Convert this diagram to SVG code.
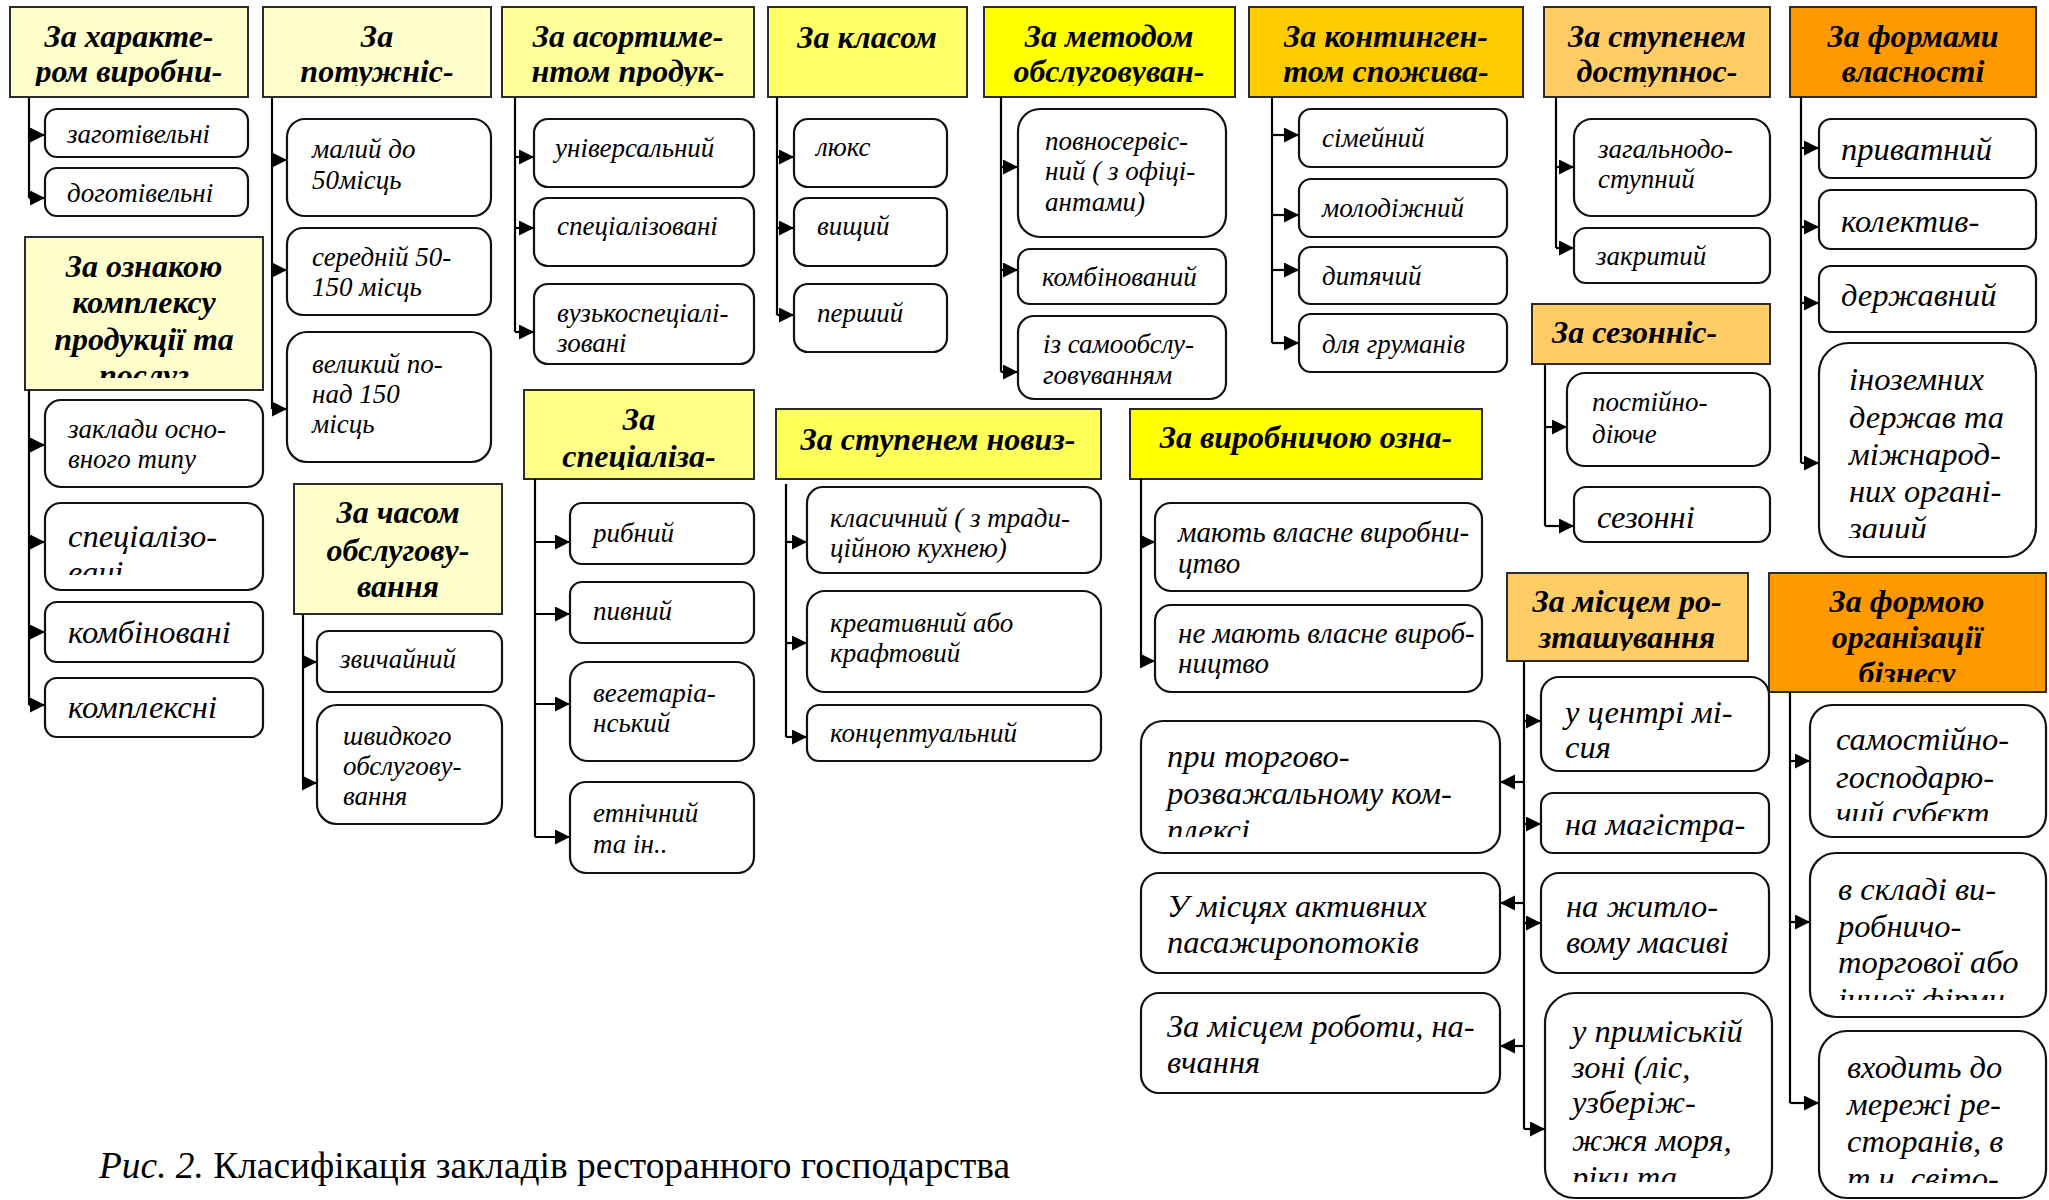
<svg xmlns="http://www.w3.org/2000/svg" width="2049" height="1200" viewBox="0 0 2049 1200">
<style>
.hd rect{stroke:#2b2b2b;stroke-width:2}
.hd text{font-family:"Liberation Serif","Times New Roman",serif;font-weight:bold;font-style:italic;font-size:32px;text-anchor:middle;fill:#000}
.bx rect{fill:#fff;stroke:#111;stroke-width:2.2}
.bx text{font-family:"Liberation Serif","Times New Roman",serif;font-style:italic;font-size:27px;fill:#000}
.bx.md text{font-size:29px}
.bx.lg text{font-size:32.5px}
.cn path{fill:none;stroke:#000;stroke-width:2.2}
.cn path.a{marker-end:url(#ar)}
.cap{font-family:"Liberation Serif","Times New Roman",serif;font-size:37.4px;fill:#000}
</style>
<defs>
<marker id="ar" markerUnits="userSpaceOnUse" markerWidth="16" markerHeight="16" refX="15" refY="7.5" orient="auto"><path d="M0,0 L15,7.5 L0,15 z" fill="#000"/></marker>
<clipPath id="k1"><rect x="10" y="7" width="238" height="79"/></clipPath>
<clipPath id="k2"><rect x="263" y="7" width="228" height="79"/></clipPath>
<clipPath id="k3"><rect x="502" y="7" width="252" height="79"/></clipPath>
<clipPath id="k4"><rect x="984" y="7" width="251" height="79"/></clipPath>
<clipPath id="k5"><rect x="1544" y="7" width="226" height="80"/></clipPath>
<clipPath id="k6"><rect x="25" y="237" width="238" height="141"/></clipPath>
<clipPath id="k7"><rect x="524" y="390" width="230" height="80"/></clipPath>
<clipPath id="k8"><rect x="1507" y="573" width="241" height="78"/></clipPath>
<clipPath id="k9"><rect x="1769" y="573" width="277" height="109"/></clipPath>
<clipPath id="k10"><rect x="534" y="284" width="220" height="68"/></clipPath>
<clipPath id="k11"><rect x="45" y="503" width="218" height="72"/></clipPath>
<clipPath id="k12"><rect x="1141" y="721" width="359" height="116"/></clipPath>
<clipPath id="k13"><rect x="1819" y="343" width="217" height="195"/></clipPath>
<clipPath id="k14"><rect x="1810" y="705" width="236" height="116"/></clipPath>
<clipPath id="k15"><rect x="1810" y="853" width="236" height="147"/></clipPath>
<clipPath id="k16"><rect x="1545" y="993" width="227" height="189"/></clipPath>
<clipPath id="k17"><rect x="1819" y="1031" width="227" height="152"/></clipPath>
<clipPath id="k18"><rect x="1018" y="316" width="208" height="69"/></clipPath>
</defs>
<rect width="2049" height="1200" fill="#fff"/>

<!-- headers -->
<g id="h-harakter" class="hd"><rect x="10" y="7" width="238" height="90" fill="#FFFFCC"/><text clip-path="url(#k1)"><tspan x="129" y="47">За характе-</tspan><tspan x="129" y="82">ром виробни-</tspan></text></g>
<g id="h-potuzhn" class="hd"><rect x="263" y="7" width="228" height="90" fill="#FFFFCC"/><text clip-path="url(#k2)"><tspan x="377" y="47">За</tspan><tspan x="377" y="82">потужніс-</tspan></text></g>
<g id="h-asort" class="hd"><rect x="502" y="7" width="252" height="90" fill="#FFFF99"/><text clip-path="url(#k3)"><tspan x="628" y="47">За асортиме-</tspan><tspan x="628" y="82">нтом продук-</tspan></text></g>
<g id="h-klas" class="hd"><rect x="768" y="7" width="199" height="90" fill="#FFFF66"/><text x="867" y="48">За класом</text></g>
<g id="h-metod" class="hd"><rect x="984" y="7" width="251" height="90" fill="#FFFF00"/><text clip-path="url(#k4)"><tspan x="1109" y="47">За методом</tspan><tspan x="1109" y="82">обслуговуван-</tspan></text></g>
<g id="h-kontyng" class="hd"><rect x="1249" y="7" width="274" height="90" fill="#FFCC00"/><text><tspan x="1386" y="47">За континген-</tspan><tspan x="1386" y="82">том спожива-</tspan></text></g>
<g id="h-dostup" class="hd"><rect x="1544" y="7" width="226" height="90" fill="#FFCC66"/><text clip-path="url(#k5)"><tspan x="1657" y="47">За ступенем</tspan><tspan x="1657" y="82">доступнос-</tspan></text></g>
<g id="h-vlasn" class="hd"><rect x="1790" y="7" width="246" height="90" fill="#FF9900"/><text><tspan x="1913" y="47">За формами</tspan><tspan x="1913" y="82">власності</tspan></text></g>
<g id="h-oznaka" class="hd"><rect x="25" y="237" width="238" height="153" fill="#FFFFCC"/><text clip-path="url(#k6)"><tspan x="144" y="277">За ознакою</tspan><tspan x="144" y="313">комплексу</tspan><tspan x="144" y="350">продукції та</tspan><tspan x="144" y="386">послуг</tspan></text></g>
<g id="h-chas" class="hd"><rect x="294" y="484" width="208" height="130" fill="#FFFFCC"/><text><tspan x="398" y="523">За часом</tspan><tspan x="398" y="561">обслугову-</tspan><tspan x="398" y="597">вання</tspan></text></g>
<g id="h-spec" class="hd"><rect x="524" y="390" width="230" height="89" fill="#FFFF88"/><text clip-path="url(#k7)"><tspan x="639" y="430">За</tspan><tspan x="639" y="467">спеціаліза-</tspan></text></g>
<g id="h-noviz" class="hd"><rect x="776" y="409" width="325" height="70" fill="#FFFF5A"/><text x="938" y="450">За ступенем новиз-</text></g>
<g id="h-vyrob" class="hd"><rect x="1130" y="409" width="352" height="70" fill="#FFFF00"/><text x="1306" y="448">За виробничою озна-</text></g>
<g id="h-sezon" class="hd"><rect x="1532" y="304" width="238" height="60" fill="#FFCC66"/><text x="1552" y="343" style="text-anchor:start">За сезонніс-</text></g>
<g id="h-misce" class="hd"><rect x="1507" y="573" width="241" height="88" fill="#FFCC66"/><text clip-path="url(#k8)"><tspan x="1627" y="612">За місцем ро-</tspan><tspan x="1627" y="648">зташування</tspan></text></g>
<g id="h-forma" class="hd"><rect x="1769" y="573" width="277" height="119" fill="#FF9900"/><text clip-path="url(#k9)"><tspan x="1907" y="612">За формою</tspan><tspan x="1907" y="648">організації</tspan><tspan x="1907" y="684">бізнесу</tspan></text></g>

<!-- boxes -->
<g id="b-zagot" class="bx"><rect x="45" y="109" width="203" height="48" rx="12"/><text x="67" y="143">заготівельні</text></g>
<g id="b-dogot" class="bx"><rect x="45" y="168" width="203" height="48" rx="12"/><text x="67" y="202">доготівельні</text></g>

<g id="b-maly" class="bx"><rect x="287" y="119" width="204" height="97" rx="18"/><text><tspan x="312" y="158">малий до</tspan><tspan x="312" y="189">50місць</tspan></text></g>
<g id="b-seredn" class="bx"><rect x="287" y="228" width="204" height="87" rx="16"/><text><tspan x="312" y="266">середній 50-</tspan><tspan x="312" y="296">150 місць</tspan></text></g>
<g id="b-velyk" class="bx"><rect x="287" y="332" width="204" height="130" rx="20"/><text><tspan x="312" y="373">великий по-</tspan><tspan x="312" y="403">над 150</tspan><tspan x="312" y="433">місць</tspan></text></g>

<g id="b-univ" class="bx"><rect x="534" y="119" width="220" height="68" rx="14"/><text x="555" y="157">універсальний</text></g>
<g id="b-specz" class="bx"><rect x="534" y="198" width="220" height="68" rx="14"/><text x="557" y="235">спеціалізовані</text></g>
<g id="b-vuzko" class="bx"><rect x="534" y="284" width="220" height="80" rx="14"/><text clip-path="url(#k10)"><tspan x="557" y="322">вузькоспеціалі-</tspan><tspan x="557" y="352">зовані</tspan></text></g>

<g id="b-luks" class="bx"><rect x="794" y="119" width="153" height="68" rx="14"/><text x="816" y="156">люкс</text></g>
<g id="b-vyshch" class="bx"><rect x="794" y="198" width="153" height="68" rx="14"/><text x="817" y="235">вищий</text></g>
<g id="b-persh" class="bx"><rect x="794" y="284" width="153" height="68" rx="14"/><text x="817" y="322">перший</text></g>

<g id="b-povno" class="bx"><rect x="1018" y="109" width="208" height="128" rx="22"/><text><tspan x="1045" y="150">повносервіс-</tspan><tspan x="1045" y="180">ний ( з офіці-</tspan><tspan x="1045" y="211">антами)</tspan></text></g>
<g id="b-kombin" class="bx"><rect x="1018" y="249" width="208" height="55" rx="12"/><text x="1042" y="286">комбінований</text></g>
<g id="b-samoob" class="bx"><rect x="1018" y="316" width="208" height="83" rx="16"/><text clip-path="url(#k18)"><tspan x="1043" y="353">із самообслу-</tspan><tspan x="1043" y="384">говуванням</tspan></text></g>

<g id="b-simei" class="bx"><rect x="1299" y="109" width="208" height="58" rx="12"/><text x="1322" y="147">сімейний</text></g>
<g id="b-molod" class="bx"><rect x="1299" y="179" width="208" height="58" rx="12"/><text x="1322" y="217">молодіжний</text></g>
<g id="b-dyt" class="bx"><rect x="1299" y="247" width="208" height="57" rx="12"/><text x="1322" y="285">дитячий</text></g>
<g id="b-grum" class="bx"><rect x="1299" y="314" width="208" height="58" rx="12"/><text x="1322" y="353">для груманів</text></g>

<g id="b-zagaln" class="bx"><rect x="1574" y="119" width="196" height="97" rx="18"/><text><tspan x="1598" y="158">загальнодо-</tspan><tspan x="1598" y="188">ступний</tspan></text></g>
<g id="b-zakr" class="bx"><rect x="1574" y="228" width="196" height="55" rx="12"/><text x="1596" y="265">закритий</text></g>

<g id="b-pryv" class="bx lg"><rect x="1819" y="119" width="217" height="59" rx="12"/><text x="1841" y="160">приватний</text></g>
<g id="b-kolekt" class="bx lg"><rect x="1819" y="190" width="217" height="59" rx="12"/><text x="1841" y="232">колектив-</text></g>
<g id="b-derzh" class="bx lg"><rect x="1819" y="266" width="217" height="66" rx="12"/><text x="1841" y="306">державний</text></g>
<g id="b-inozem" class="bx lg"><rect x="1819" y="343" width="217" height="214" rx="30"/><text clip-path="url(#k13)"><tspan x="1849" y="390">іноземних</tspan><tspan x="1849" y="428">держав та</tspan><tspan x="1849" y="465">міжнарод-</tspan><tspan x="1849" y="502">них органі-</tspan><tspan x="1849" y="539">заций</tspan></text></g>

<g id="b-zakl" class="bx"><rect x="45" y="400" width="218" height="87" rx="16"/><text><tspan x="68" y="438">заклади осно-</tspan><tspan x="68" y="468">вного типу</tspan></text></g>
<g id="b-specvani" class="bx lg"><rect x="45" y="503" width="218" height="87" rx="16"/><text clip-path="url(#k11)"><tspan x="68" y="547">спеціалізо-</tspan><tspan x="68" y="583">вані</tspan></text></g>
<g id="b-kombvani" class="bx lg"><rect x="45" y="602" width="218" height="60" rx="12"/><text x="68" y="643">комбіновані</text></g>
<g id="b-kompl" class="bx lg"><rect x="45" y="678" width="218" height="59" rx="12"/><text x="68" y="718">комплексні</text></g>

<g id="b-zvych" class="bx"><rect x="317" y="631" width="185" height="61" rx="12"/><text x="340" y="668">звичайний</text></g>
<g id="b-shvyd" class="bx"><rect x="317" y="705" width="185" height="119" rx="20"/><text><tspan x="343" y="745">швидкого</tspan><tspan x="343" y="775">обслугову-</tspan><tspan x="343" y="805">вання</tspan></text></g>

<g id="b-ryb" class="bx"><rect x="570" y="503" width="184" height="61" rx="12"/><text x="593" y="542">рибний</text></g>
<g id="b-pyv" class="bx"><rect x="570" y="582" width="184" height="61" rx="12"/><text x="593" y="620">пивний</text></g>
<g id="b-veget" class="bx"><rect x="570" y="662" width="184" height="99" rx="18"/><text><tspan x="593" y="702">вегетаріа-</tspan><tspan x="593" y="732">нський</tspan></text></g>
<g id="b-etn" class="bx"><rect x="570" y="782" width="184" height="91" rx="16"/><text><tspan x="593" y="822">етнічний</tspan><tspan x="593" y="853">та ін..</tspan></text></g>

<g id="b-klasych" class="bx"><rect x="807" y="487" width="294" height="86" rx="16"/><text><tspan x="830" y="527">класичний ( з тради-</tspan><tspan x="830" y="557">ційною кухнею)</tspan></text></g>
<g id="b-kreat" class="bx"><rect x="807" y="591" width="294" height="101" rx="18"/><text><tspan x="830" y="632">креативний або</tspan><tspan x="830" y="662">крафтовий</tspan></text></g>
<g id="b-koncept" class="bx"><rect x="807" y="705" width="294" height="56" rx="12"/><text x="830" y="742">концептуальний</text></g>

<g id="b-mayut" class="bx md"><rect x="1155" y="503" width="327" height="88" rx="16"/><text><tspan x="1178" y="542">мають власне виробни-</tspan><tspan x="1178" y="573">цтво</tspan></text></g>
<g id="b-nemayut" class="bx md"><rect x="1155" y="605" width="327" height="87" rx="16"/><text><tspan x="1178" y="643">не мають власне вироб-</tspan><tspan x="1178" y="673">ництво</tspan></text></g>

<g id="b-postiyno" class="bx"><rect x="1567" y="373" width="203" height="93" rx="18"/><text><tspan x="1592" y="411">постійно-</tspan><tspan x="1592" y="443">діюче</tspan></text></g>
<g id="b-sezonni" class="bx lg"><rect x="1574" y="487" width="196" height="55" rx="12"/><text x="1597" y="528">сезонні</text></g>

<g id="b-centr" class="bx lg"><rect x="1541" y="677" width="228" height="94" rx="18"/><text><tspan x="1565" y="723">у центрі мі-</tspan><tspan x="1565" y="758">сия</tspan></text></g>
<g id="b-magistr" class="bx lg"><rect x="1541" y="793" width="228" height="60" rx="12"/><text x="1565" y="835">на магістра-</text></g>
<g id="b-zhytlo" class="bx lg"><rect x="1541" y="873" width="228" height="100" rx="18"/><text><tspan x="1566" y="917">на житло-</tspan><tspan x="1566" y="953">вому масиві</tspan></text></g>
<g id="b-prymisk" class="bx lg"><rect x="1545" y="993" width="227" height="205" rx="30"/><text clip-path="url(#k16)"><tspan x="1572" y="1042">у приміській</tspan><tspan x="1572" y="1078">зоні (ліс,</tspan><tspan x="1572" y="1113">узберіж-</tspan><tspan x="1572" y="1151">жжя моря,</tspan><tspan x="1572" y="1188">ріки та</tspan></text></g>
<g id="b-torg" class="bx lg"><rect x="1141" y="721" width="359" height="132" rx="22"/><text clip-path="url(#k12)"><tspan x="1167" y="767">при торгово-</tspan><tspan x="1167" y="804">розважальному ком-</tspan><tspan x="1167" y="841">плексі</tspan></text></g>
<g id="b-pasazh" class="bx lg"><rect x="1141" y="873" width="359" height="100" rx="18"/><text><tspan x="1167" y="917">У місцях активних</tspan><tspan x="1167" y="953">пасажиропотоків</tspan></text></g>
<g id="b-robota" class="bx lg"><rect x="1141" y="993" width="359" height="100" rx="18"/><text><tspan x="1167" y="1037">За місцем роботи, на-</tspan><tspan x="1167" y="1073">вчання</tspan></text></g>

<g id="b-samost" class="bx lg"><rect x="1810" y="705" width="236" height="132" rx="22"/><text clip-path="url(#k14)"><tspan x="1836" y="750">самостійно-</tspan><tspan x="1836" y="788">господарю-</tspan><tspan x="1836" y="824">чий субєкт</tspan></text></g>
<g id="b-sklad" class="bx lg"><rect x="1810" y="853" width="236" height="164" rx="26"/><text clip-path="url(#k15)"><tspan x="1838" y="900">в складі ви-</tspan><tspan x="1838" y="937">робничо-</tspan><tspan x="1838" y="973">торгової або</tspan><tspan x="1838" y="1010">іншої фірми</tspan></text></g>
<g id="b-merezh" class="bx lg"><rect x="1819" y="1031" width="227" height="167" rx="28"/><text clip-path="url(#k17)"><tspan x="1847" y="1078">входить до</tspan><tspan x="1847" y="1115">мережі ре-</tspan><tspan x="1847" y="1152">сторанів, в</tspan><tspan x="1847" y="1189">т.ч. світо-</tspan></text></g>

<!-- connectors -->
<g id="connectors" class="cn">
<path d="M29,97 V198"/><path class="a" d="M29,135 H45"/><path class="a" d="M29,198 H45"/>
<path d="M272,97 V409"/><path class="a" d="M272,160 H287"/><path class="a" d="M272,270 H287"/><path class="a" d="M272,409 H287"/>
<path d="M515,97 V332"/><path class="a" d="M515,157 H534"/><path class="a" d="M515,228 H534"/><path class="a" d="M515,332 H534"/>
<path d="M777,97 V315"/><path class="a" d="M777,157 H794"/><path class="a" d="M777,228 H794"/><path class="a" d="M777,315 H794"/>
<path d="M1001,97 V372"/><path class="a" d="M1001,167 H1018"/><path class="a" d="M1001,270 H1018"/><path class="a" d="M1001,372 H1018"/>
<path d="M1272,97 V343"/><path class="a" d="M1272,135 H1299"/><path class="a" d="M1272,215 H1299"/><path class="a" d="M1272,270 H1299"/><path class="a" d="M1272,343 H1299"/>
<path d="M1556,97 V248"/><path class="a" d="M1556,167 H1574"/><path class="a" d="M1556,248 H1574"/>
<path d="M1801,97 V463"/><path class="a" d="M1801,148 H1819"/><path class="a" d="M1801,227 H1819"/><path class="a" d="M1801,303 H1819"/><path class="a" d="M1801,463 H1819"/>
<path d="M29,390 V705"/><path class="a" d="M29,445 H45"/><path class="a" d="M29,542 H45"/><path class="a" d="M29,632 H45"/><path class="a" d="M29,705 H45"/>
<path d="M303,614 V783"/><path class="a" d="M303,662 H317"/><path class="a" d="M303,783 H317"/>
<path d="M535,479 V837"/><path class="a" d="M535,542 H570"/><path class="a" d="M535,614 H570"/><path class="a" d="M535,704 H570"/><path class="a" d="M535,837 H570"/>
<path d="M786,484 V737"/><path class="a" d="M786,542 H807"/><path class="a" d="M786,643 H807"/><path class="a" d="M786,737 H807"/>
<path d="M1141,479 V661"/><path class="a" d="M1141,542 H1155"/><path class="a" d="M1141,661 H1155"/>
<path d="M1545,364 V526"/><path class="a" d="M1545,427 H1567"/><path class="a" d="M1545,526 H1574"/>
<path d="M1524,661 V1129"/><path class="a" d="M1524,721 H1541"/><path class="a" d="M1524,824 H1541"/><path class="a" d="M1524,923 H1541"/><path class="a" d="M1524,1129 H1545"/>
<path class="a" d="M1524,782 H1500"/><path class="a" d="M1524,903 H1500"/><path class="a" d="M1524,1046 H1500"/>
<path d="M1790,692 V1103"/><path class="a" d="M1790,761 H1810"/><path class="a" d="M1790,922 H1810"/><path class="a" d="M1790,1103 H1819"/>
</g>

<text id="caption" class="cap" x="99" y="1178"><tspan font-style="italic">Рис. 2.</tspan> Класифікація закладів ресторанного господарства</text>
</svg>
